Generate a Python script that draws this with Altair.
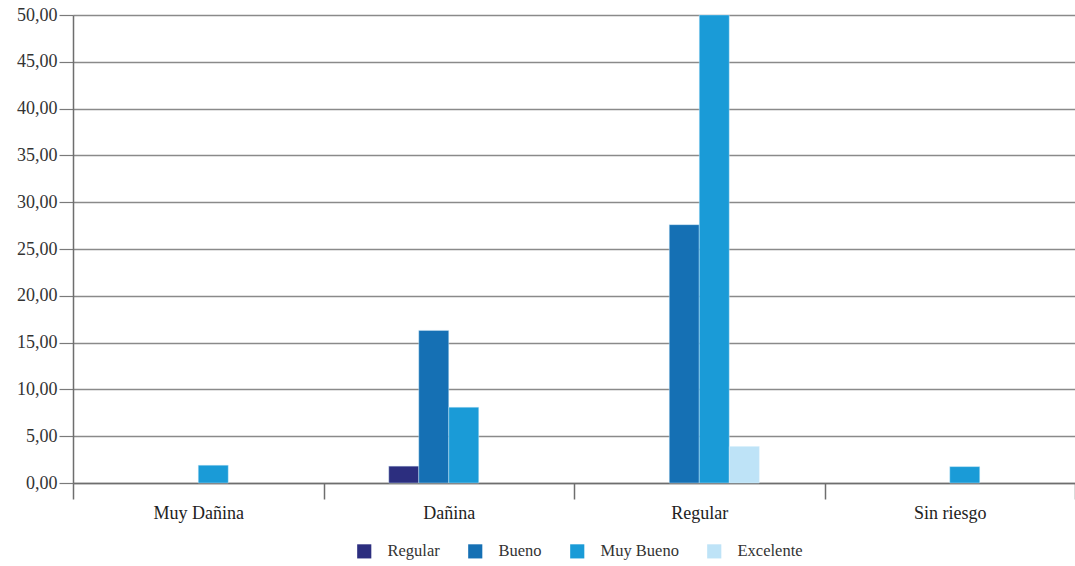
import altair as alt
import pandas as pd

# Categories on the x axis and the series drawn inside each group
categorias = ["Muy Dañina", "Dañina", "Regular", "Sin riesgo"]
series = ["Regular", "Bueno", "Muy Bueno", "Excelente"]

# Percentages per category, one list per series
regular = [0.0, 1.8, 0.0, 0.0]
bueno = [0.0, 16.3, 27.6, 0.0]
muy_bueno = [1.9, 8.1, 50.0, 1.75]
excelente = [0.0, 0.0, 3.9, 0.0]

colores = ["#2c2e7f", "#1570b4", "#1a9bd7", "#bee3f7"]

rows = []
for nombre, valores in zip(series, [regular, bueno, muy_bueno, excelente]):
    for cat, v in zip(categorias, valores):
        rows.append({"categoria": cat, "serie": nombre, "valor": v})
df = pd.DataFrame(rows)

FONT = "Liberation Serif"

PLOT_W = 1002
PLOT_H = 468
BAND = PLOT_W / len(categorias)
GROUP = 120  # width taken by the four bars of one category
OFFSET0 = (BAND - GROUP) / 2

chart = (
    alt.Chart(df)
    .transform_filter("datum.valor > 0")
    .mark_bar(stroke="#d6eefb", strokeWidth=0.6, strokeOpacity=0.7)
    .encode(
        x=alt.X(
            "categoria:N",
            sort=categorias,
            scale=alt.Scale(domain=categorias, paddingInner=0, paddingOuter=0),
            axis=alt.Axis(
                title=None,
                labelAngle=0,
                tickBand="extent",
                tickSize=16,
                tickColor="#6e6e6e",
                tickWidth=1.5,
                domainColor="#6e6e6e",
                domainWidth=1.5,
                labelFont=FONT,
                labelFontSize=18,
                labelColor="#222222",
                labelPadding=5,
                grid=False,
            ),
        ),
        xOffset=alt.XOffset(
            "serie:N",
            sort=series,
            scale=alt.Scale(
                domain=series,
                paddingInner=0,
                paddingOuter=0,
                range=[OFFSET0, OFFSET0 + GROUP],
            ),
        ),
        y=alt.Y(
            "valor:Q",
            scale=alt.Scale(domain=[0, 50], nice=False),
            axis=alt.Axis(
                title=None,
                values=list(range(0, 51, 5)),
                labelExpr="replace(format(datum.value, '.2f'), '.', ',')",
                tickSize=14,
                tickColor="#7a7a7a",
                tickWidth=1.2,
                domainColor="#6e6e6e",
                domainWidth=1.5,
                gridColor="#8a8a8a",
                gridWidth=1.4,
                labelFont=FONT,
                labelFontSize=18,
                labelColor="#333333",
                labelPadding=2,
            ),
        ),
        color=alt.Color(
            "serie:N",
            sort=series,
            scale=alt.Scale(domain=series, range=colores),
            legend=alt.Legend(
                title=None,
                orient="none",
                legendX=283,
                legendY=528,
                direction="horizontal",
                symbolType="square",
                symbolSize=200,
                symbolStrokeWidth=0,
                labelFont=FONT,
                labelFontSize=16.5,
                labelColor="#333333",
                labelOffset=15,
                columnPadding=27,
            ),
        ),
    )
    .properties(
        width=PLOT_W,
        height=PLOT_H,
        autosize=alt.AutoSizeParams(type="none"),
        padding={"left": 73, "top": 15, "right": 0, "bottom": 83},
    )
    .configure_view(stroke=None)
)

chart.save("out.html", embed_options={"renderer": "svg", "actions": False})
